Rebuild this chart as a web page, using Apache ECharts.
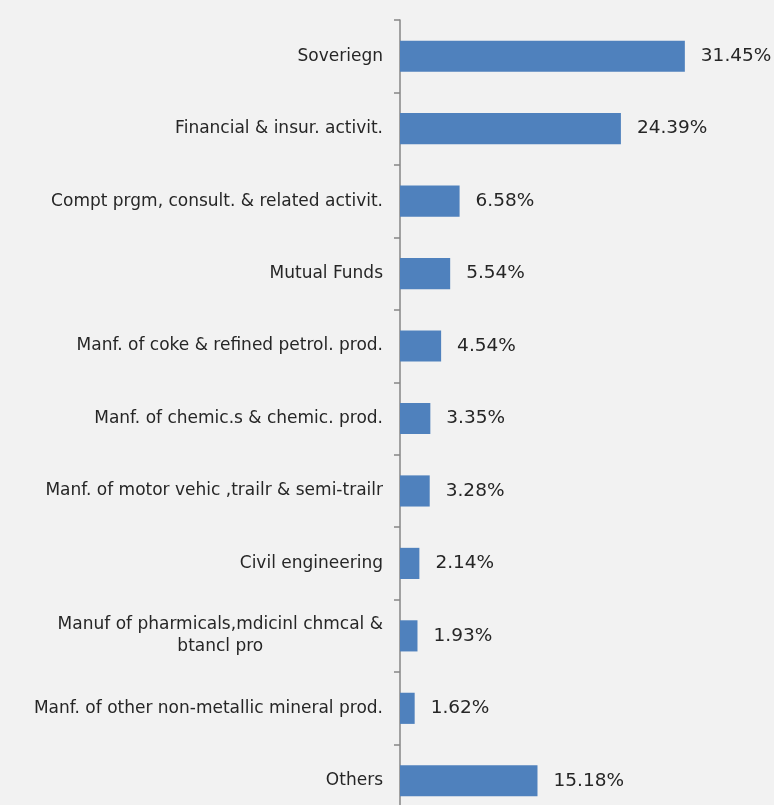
<!DOCTYPE html>
<html>
<head>
<meta charset="utf-8">
<script src="https://cdn.jsdelivr.net/npm/echarts@6/dist/echarts.min.js"></script>
<style>
  html, body { margin: 0; padding: 0; background: #f2f2f2; }
  #chart { width: 774px; height: 805px; }
</style>
</head>
<body>
<div id="chart"></div>
<script>
// sectors, top to bottom
const sectors = [
  'Soveriegn',
  'Financial & insur. activit.',
  'Compt prgm, consult. & related activit.',
  'Mutual Funds',
  'Manf. of coke & refined petrol. prod.',
  'Manf. of chemic.s & chemic. prod.',
  'Manf. of motor vehic ,trailr & semi-trailr',
  'Civil engineering',
  'Manuf of pharmicals,mdicinl chmcal &\nbtancl pro',
  'Manf. of other non-metallic mineral prod.',
  'Others'
]
// share of portfolio, %
const shares = [31.45, 24.39, 6.58, 5.54, 4.54, 3.35, 3.28, 2.14, 1.93, 1.62, 15.18]

const font = 'DejaVu Sans'
const chart = echarts.init(document.getElementById('chart'))

chart.setOption({
  backgroundColor: '#f2f2f2',
  animation: false,
  grid: {
    left: 400,
    top: 20,
    width: 317,
    height: 797,
    outerBoundsMode: 'none'
  },
  xAxis: {
    type: 'value',
    min: 0,
    max: 35,
    show: false
  },
  yAxis: {
    type: 'category',
    inverse: true,
    data: sectors,
    axisLine: {show: true, lineStyle: {color: '#868686', width: 1.5}},
    axisTick: {show: true, length: 6, lineStyle: {color: '#868686', width: 1.5}},
    axisLabel: {
      margin: 17,
      fontFamily: font,
      fontSize: 17,
      color: '#262626',
      // 两行的标签要居中对齐
      formatter: function (v) {
        if (v.indexOf('\n') < 0) return v
        return v.split('\n').map(s => '{c|' + s + '}').join('\n')
      },
      rich: {
        c: {align: 'center', fontFamily: font, fontSize: 17, color: '#262626', lineHeight: 22}
      }
    }
  },
  series: [
    {
      type: 'bar',
      data: shares,
      barCategoryGap: '57%',
      itemStyle: {color: '#4f81bd'},
      label: {
        show: true,
        position: 'right',
        distance: 16,
        fontFamily: font,
        fontSize: 18.5,
        color: '#262626',
        formatter: p => p.value.toFixed(2) + '%'
      }
    }
  ]
})
</script>
</body>
</html>
